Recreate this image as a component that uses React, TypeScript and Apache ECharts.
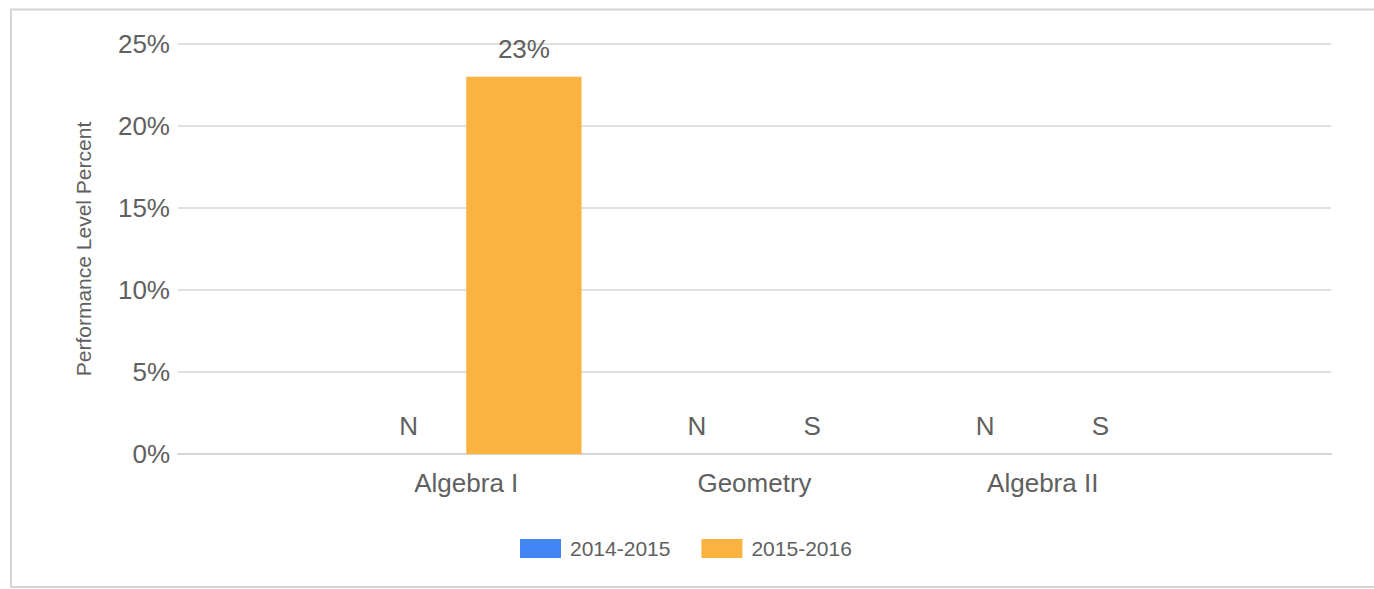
import React, { useEffect, useRef } from "react";
import * as echarts from "echarts";

const subjects = ["Algebra I", "Geometry", "Algebra II"];
const seriesNames = ["2014-2015", "2015-2016"];
const values2014 = [0, 0, 0];
const labels2014 = ["N", "N", "N"];
const values2015 = [23, 0, 0];
const labels2015 = [null, "S", "S"];
const yTicks = [0, 5, 10, 15, 20, 25];

const FONT = "'Liberation Sans', Arial, sans-serif";
const TEXT = "#606060";

export default function App() {
  const ref = useRef<HTMLDivElement>(null);
  useEffect(() => {
    if (!ref.current) return;
    const chart = echarts.init(ref.current, null, { renderer: "svg" });
    // pad with empty edge categories so the groups sit where the reference has them
    const cats = ["", ...subjects, ""];
    const pad = (vals: number[], labels: (string | null)[]) => [
      null,
      ...vals.map((v, i) => ({ value: v, labelText: labels[i] })),
      null,
    ];
    const labelCfg = {
      show: true,
      position: "top",
      distance: 15,
      fontFamily: FONT,
      fontSize: 26,
      color: TEXT,
      formatter: (p: any) =>
        p.data && p.data.labelText ? p.data.labelText : p.value + "%",
    };
    chart.setOption({
      animation: false,
      textStyle: { fontFamily: FONT },
      graphic: [
        {
          type: "rect",
          shape: { x: 11, y: 9.5, width: 1400, height: 577.5 },
          style: { fill: "none", stroke: "#d4d4d4", lineWidth: 2 },
          silent: true,
        },
      ],
      grid: { left: 178, right: 43, top: 44, bottom: 135 },
      legend: {
        left: 520,
        top: 538,
        padding: 0,
        itemWidth: 41,
        itemHeight: 19,
        itemGap: 31,
        icon: "rect",
        data: seriesNames,
        textStyle: {
          fontFamily: FONT,
          fontSize: 21,
          color: TEXT,
          padding: [0, 0, 0, 4],
        },
      },
      xAxis: {
        type: "category",
        data: cats,
        boundaryGap: false,
        axisTick: { show: false },
        axisLine: { show: true, lineStyle: { color: "#d6d6d6", width: 2 } },
        axisLabel: {
          interval: 0,
          margin: 16,
          fontFamily: FONT,
          fontSize: 26,
          color: TEXT,
        },
        splitLine: { show: false },
      },
      yAxis: {
        type: "value",
        min: yTicks[0],
        max: yTicks[yTicks.length - 1],
        interval: 5,
        name: "Performance Level Percent",
        nameLocation: "middle",
        nameGap: 84,
        nameTextStyle: { fontFamily: FONT, fontSize: 21, color: TEXT },
        axisLine: { show: false },
        axisTick: { show: false },
        axisLabel: {
          margin: 8,
          fontFamily: FONT,
          fontSize: 26,
          color: TEXT,
          formatter: "{value}%",
        },
        splitLine: { lineStyle: { color: "#e0e0e0", width: 2 } },
      },
      series: [
        {
          name: seriesNames[0],
          type: "bar",
          barGap: "0%",
          barCategoryGap: "20%",
          itemStyle: { color: "#4285f4" },
          label: labelCfg,
          data: pad(values2014, labels2014),
        },
        {
          name: seriesNames[1],
          type: "bar",
          barGap: "0%",
          barCategoryGap: "20%",
          itemStyle: { color: "#fab341" },
          label: labelCfg,
          data: pad(values2015, labels2015),
        },
      ],
    });
    return () => chart.dispose();
  }, []);
  return (
    <div
      ref={ref}
      style={{ position: "absolute", left: 0, top: 0, width: 1374, height: 589 }}
    />
  );
}
